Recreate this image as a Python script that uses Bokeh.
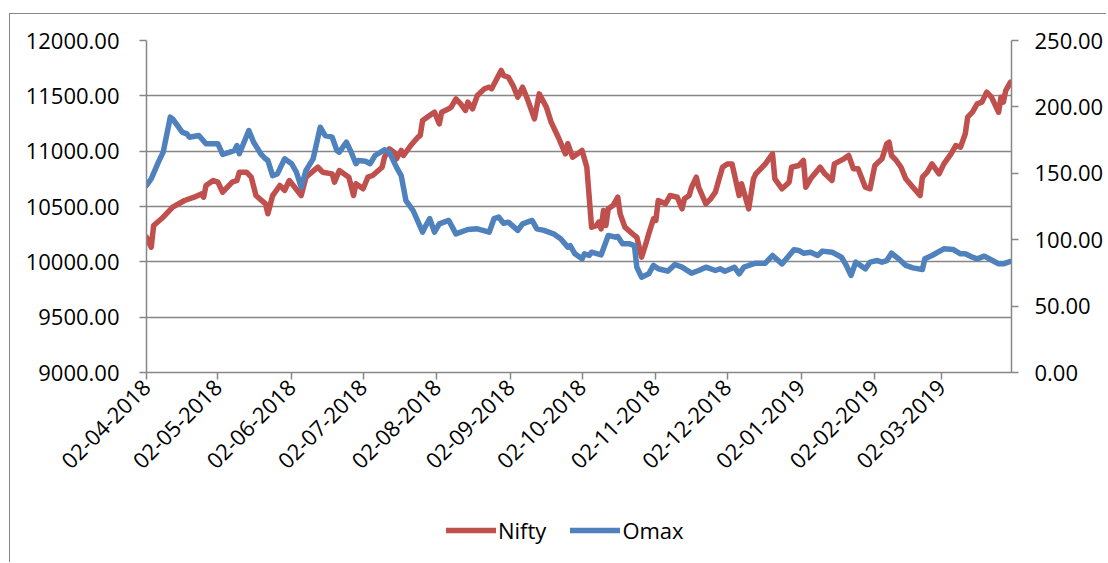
import pandas as pd
from math import pi
from bokeh.plotting import figure
from bokeh.layouts import column
from bokeh.models import (Range1d, LinearAxis, FixedTicker, DatetimeTickFormatter,
                          NumeralTickFormatter, Legend, LegendItem)
from bokeh.embed import file_html
from bokeh.resources import INLINE

# ---------------- data ----------------
nifty_dates = [
    "2018-04-02", "2018-04-04", "2018-04-05", "2018-04-09", "2018-04-13", "2018-04-18", "2018-04-22",
    "2018-04-25", "2018-04-26", "2018-04-27", "2018-04-30", "2018-05-02", "2018-05-04", "2018-05-08",
    "2018-05-10", "2018-05-11", "2018-05-14", "2018-05-16", "2018-05-18", "2018-05-22", "2018-05-23",
    "2018-05-25", "2018-05-28", "2018-05-30", "2018-06-01", "2018-06-06", "2018-06-08", "2018-06-13",
    "2018-06-15", "2018-06-19", "2018-06-20", "2018-06-22", "2018-06-26", "2018-06-28", "2018-06-29",
    "2018-07-02", "2018-07-04", "2018-07-06", "2018-07-10", "2018-07-11", "2018-07-13", "2018-07-15",
    "2018-07-16", "2018-07-18", "2018-07-19", "2018-07-22", "2018-07-25", "2018-07-26", "2018-07-27",
    "2018-07-31", "2018-08-01", "2018-08-03", "2018-08-04", "2018-08-07", "2018-08-08", "2018-08-10",
    "2018-08-12", "2018-08-14", "2018-08-15", "2018-08-17", "2018-08-19", "2018-08-22", "2018-08-24",
    "2018-08-25", "2018-08-29", "2018-08-30", "2018-09-01", "2018-09-03", "2018-09-05", "2018-09-07",
    "2018-09-09", "2018-09-12", "2018-09-14", "2018-09-17", "2018-09-19", "2018-09-22", "2018-09-25",
    "2018-09-26", "2018-09-28", "2018-10-02", "2018-10-04", "2018-10-06", "2018-10-08", "2018-10-09",
    "2018-10-10", "2018-10-11", "2018-10-12", "2018-10-13", "2018-10-15", "2018-10-17", "2018-10-18",
    "2018-10-20", "2018-10-24", "2018-10-25", "2018-10-27", "2018-10-29", "2018-10-30", "2018-11-01",
    "2018-11-02", "2018-11-03", "2018-11-06", "2018-11-08", "2018-11-11", "2018-11-13", "2018-11-14",
    "2018-11-16", "2018-11-17", "2018-11-19", "2018-11-20", "2018-11-23", "2018-11-25", "2018-11-27",
    "2018-11-28", "2018-11-30", "2018-12-02", "2018-12-04", "2018-12-07", "2018-12-08", "2018-12-11",
    "2018-12-13", "2018-12-14", "2018-12-18", "2018-12-21", "2018-12-22", "2018-12-25", "2018-12-28",
    "2018-12-29", "2019-01-01", "2019-01-03", "2019-01-04", "2019-01-06", "2019-01-10", "2019-01-12",
    "2019-01-15", "2019-01-16", "2019-01-20", "2019-01-22", "2019-01-24", "2019-01-26", "2019-01-29",
    "2019-01-31", "2019-02-02", "2019-02-05", "2019-02-07", "2019-02-08", "2019-02-09", "2019-02-11",
    "2019-02-13", "2019-02-15", "2019-02-18", "2019-02-21", "2019-02-22", "2019-02-24", "2019-02-26",
    "2019-02-28", "2019-03-01", "2019-03-03", "2019-03-06", "2019-03-08", "2019-03-10", "2019-03-12",
    "2019-03-13", "2019-03-15", "2019-03-17", "2019-03-19", "2019-03-21", "2019-03-23", "2019-03-26",
    "2019-03-27", "2019-03-28", "2019-03-29", "2019-03-31",
]
nifty_values = [
    10223, 10132, 10328, 10403, 10494, 10554, 10584,
    10614, 10584, 10690, 10735, 10720, 10629, 10720,
    10735, 10810, 10810, 10765, 10599, 10524, 10434,
    10599, 10690, 10645, 10735, 10599, 10765, 10855,
    10810, 10795, 10720, 10825, 10765, 10599, 10705,
    10660, 10765, 10780, 10855, 10946, 11021, 10991,
    10931, 11006, 10961, 11051, 11126, 11142, 11277,
    11338, 11352, 11247, 11352, 11383, 11398, 11473,
    11428, 11368, 11443, 11383, 11503, 11564, 11578,
    11564, 11729, 11684, 11668, 11593, 11488, 11578,
    11473, 11292, 11518, 11398, 11262, 11126, 10976,
    11067, 10946, 11006, 10855, 10313, 10328, 10358,
    10298, 10464, 10328, 10479, 10509, 10584, 10434,
    10313, 10238, 10223, 10042, 10178, 10253, 10389,
    10374, 10554, 10524, 10599, 10584, 10479, 10569,
    10599, 10674, 10765, 10674, 10524, 10569, 10629,
    10705, 10855, 10885, 10885, 10599, 10705, 10479,
    10750, 10795, 10885, 10976, 10750, 10660, 10720,
    10855, 10870, 10916, 10674, 10750, 10855, 10795,
    10735, 10885, 10931, 10961, 10840, 10840, 10674,
    10660, 10870, 10931, 11067, 11081, 10961, 10916,
    10855, 10750, 10674, 10599, 10765, 10810, 10885,
    10825, 10795, 10885, 10976, 11051, 11036, 11157,
    11307, 11352, 11428, 11443, 11533, 11488, 11352,
    11488, 11443, 11548, 11623,
]

omax_dates = [
    "2018-04-02", "2018-04-04", "2018-04-07", "2018-04-09", "2018-04-12", "2018-04-13", "2018-04-17",
    "2018-04-19", "2018-04-20", "2018-04-24", "2018-04-27", "2018-05-02", "2018-05-04", "2018-05-07",
    "2018-05-09", "2018-05-10", "2018-05-11", "2018-05-15", "2018-05-17", "2018-05-20", "2018-05-22",
    "2018-05-23", "2018-05-25", "2018-05-27", "2018-05-30", "2018-06-02", "2018-06-04", "2018-06-06",
    "2018-06-08", "2018-06-11", "2018-06-14", "2018-06-16", "2018-06-19", "2018-06-21", "2018-06-22",
    "2018-06-25", "2018-06-27", "2018-06-29", "2018-06-30", "2018-07-03", "2018-07-05", "2018-07-07",
    "2018-07-11", "2018-07-13", "2018-07-16", "2018-07-18", "2018-07-20", "2018-07-23", "2018-07-27",
    "2018-07-28", "2018-07-30", "2018-08-01", "2018-08-03", "2018-08-07", "2018-08-10", "2018-08-15",
    "2018-08-19", "2018-08-24", "2018-08-26", "2018-08-28", "2018-08-30", "2018-09-01", "2018-09-05",
    "2018-09-07", "2018-09-11", "2018-09-13", "2018-09-16", "2018-09-20", "2018-09-23", "2018-09-26",
    "2018-09-27", "2018-09-29", "2018-10-02", "2018-10-03", "2018-10-05", "2018-10-06", "2018-10-10",
    "2018-10-13", "2018-10-16", "2018-10-17", "2018-10-19", "2018-10-22", "2018-10-24", "2018-10-25",
    "2018-10-27", "2018-10-30", "2018-11-01", "2018-11-03", "2018-11-07", "2018-11-10", "2018-11-13",
    "2018-11-17", "2018-11-20", "2018-11-23", "2018-11-27", "2018-11-29", "2018-12-01", "2018-12-05",
    "2018-12-07", "2018-12-09", "2018-12-11", "2018-12-14", "2018-12-18", "2018-12-21", "2018-12-25",
    "2018-12-28", "2018-12-30", "2019-01-01", "2019-01-03", "2019-01-06", "2019-01-09", "2019-01-11",
    "2019-01-15", "2019-01-19", "2019-01-21", "2019-01-23", "2019-01-25", "2019-01-29", "2019-01-31",
    "2019-02-03", "2019-02-05", "2019-02-07", "2019-02-09", "2019-02-12", "2019-02-15", "2019-02-18",
    "2019-02-22", "2019-02-23", "2019-02-26", "2019-03-03", "2019-03-07", "2019-03-10", "2019-03-12",
    "2019-03-15", "2019-03-17", "2019-03-20", "2019-03-24", "2019-03-26", "2019-03-28", "2019-03-31",
]
omax_values = [
    140.8, 145.9, 158.4, 165.9, 192.3, 191.0, 181.0,
    179.7, 177.2, 178.5, 172.2, 172.2, 164.2, 165.9,
    167.2, 170.9, 164.7, 182.2, 173.4, 164.7, 160.9,
    159.6, 148.3, 149.6, 160.9, 157.2, 150.8, 139.5,
    152.1, 160.9, 184.7, 178.5, 177.2, 167.2, 165.9,
    173.4, 165.9, 157.2, 159.6, 159.1, 157.2, 163.4,
    167.7, 165.9, 154.6, 148.3, 129.5, 122.0, 105.7,
    109.5, 115.8, 105.7, 111.9, 114.5, 104.4, 107.7,
    108.2, 105.7, 115.8, 117.0, 112.4, 113.2, 107.0,
    111.9, 114.5, 108.2, 107.0, 104.4, 100.7, 94.4,
    95.6, 89.4, 85.6, 89.4, 88.1, 90.6, 88.6,
    103.2, 101.9, 102.4, 96.9, 96.9, 95.6, 79.3,
    71.8, 74.3, 80.6, 78.1, 76.3, 81.3, 79.3,
    74.8, 76.8, 79.3, 76.8, 78.1, 76.3, 79.3,
    74.3, 79.3, 80.6, 82.3, 82.3, 88.1, 81.8,
    88.1, 92.4, 91.9, 89.8, 90.6, 88.1, 91.4,
    90.6, 86.8, 80.6, 73.1, 83.1, 78.1, 83.1,
    84.3, 83.1, 84.3, 89.8, 85.6, 80.6, 78.8,
    77.6, 85.6, 88.1, 93.1, 92.6, 89.4, 89.4,
    86.8, 85.6, 87.6, 83.8, 81.8, 81.8, 83.6,
]

x_tick_dates = ["2018-04-02", "2018-05-02", "2018-06-02", "2018-07-02", "2018-08-02", "2018-09-02",
                "2018-10-02", "2018-11-02", "2018-12-02", "2019-01-02", "2019-02-02", "2019-03-02"]
x_start, x_end = "2018-04-02", "2019-03-31 10:00"
nifty_ticks = [9000, 9500, 10000, 10500, 11000, 11500, 12000]
omax_ticks = [0, 50, 100, 150, 200, 250]
series_names = ["Nifty", "Omax"]
series_colors = ["#C0504D", "#4F81BD"]

# ---------------- main figure ----------------
FONT = "Open Sans"
AXIS_GRAY = "#868686"
W = 1096

p = figure(width=W, height=480, x_axis_type="datetime",
           output_backend="svg", toolbar_location=None,
           x_range=Range1d(pd.Timestamp(x_start), pd.Timestamp(x_end)),
           y_range=Range1d(nifty_ticks[0], nifty_ticks[-1]),
           min_border_left=136, min_border_right=94,
           min_border_top=26, min_border_bottom=122)
p.outline_line_color = None
p.background_fill_color = "white"
p.border_fill_color = "white"

p.extra_y_ranges = {"omax": Range1d(omax_ticks[0], omax_ticks[-1])}

line_style = dict(line_width=5.5, line_join="round", line_cap="round")
r_nifty = p.line(pd.to_datetime(nifty_dates), nifty_values, line_color=series_colors[0], **line_style)
r_omax = p.line(pd.to_datetime(omax_dates), omax_values, line_color=series_colors[1],
                y_range_name="omax", **line_style)

right_axis = LinearAxis(y_range_name="omax")
p.add_layout(right_axis, "right")

p.yaxis[0].ticker = FixedTicker(ticks=nifty_ticks)
p.yaxis[0].formatter = NumeralTickFormatter(format="0.00")
right_axis.ticker = FixedTicker(ticks=omax_ticks)
right_axis.formatter = NumeralTickFormatter(format="0.00")

tick_ms = [pd.Timestamp(d).timestamp() * 1000 for d in x_tick_dates]
p.xaxis[0].ticker = FixedTicker(ticks=tick_ms)
fmt = "%d-%m-%Y"
p.xaxis[0].formatter = DatetimeTickFormatter(
    microseconds=fmt, milliseconds=fmt, seconds=fmt, minsec=fmt, minutes=fmt,
    hourmin=fmt, hours=fmt, days=fmt, months=fmt, years=fmt)
p.xaxis[0].major_label_orientation = pi / 4

for ax in [p.yaxis[0], right_axis, p.xaxis[0]]:
    ax.axis_line_color = AXIS_GRAY
    ax.axis_line_width = 1.5
    ax.major_tick_line_color = AXIS_GRAY
    ax.major_tick_line_width = 1.5
    ax.major_tick_out = 7
    ax.major_tick_in = 0
    ax.minor_tick_line_color = None
    ax.major_label_text_font = FONT
    ax.major_label_text_font_size = "22px"
    ax.major_label_text_color = "black"

p.yaxis[0].major_label_standoff = 20
right_axis.major_label_standoff = 16
p.xaxis[0].major_label_standoff = 4

p.xgrid.visible = False
p.ygrid.grid_line_color = AXIS_GRAY
p.ygrid.grid_line_width = 1.3

# ---------------- legend strip below ----------------
lg = figure(width=W, height=68, x_range=Range1d(0, 1), y_range=Range1d(0, 1),
            x_axis_location=None, y_axis_location=None, min_border=0,
            output_backend="svg", toolbar_location=None)
lg.outline_line_color = None
lg.xgrid.visible = False
lg.ygrid.visible = False
# key-only renderers (a single NaN value: nothing is drawn in the strip itself)
k_nifty = lg.line(x=[0], y=[float("nan")], line_color=series_colors[0], **line_style)
k_omax = lg.line(x=[0], y=[float("nan")], line_color=series_colors[1], **line_style)

legend = Legend(items=[LegendItem(label=series_names[0], renderers=[k_nifty]),
                       LegendItem(label=series_names[1], renderers=[k_omax])],
                orientation="horizontal", location=(300, 17),
                glyph_width=50, glyph_height=20, label_standoff=2, spacing=24,
                padding=0, margin=0, border_line_color=None, background_fill_alpha=0,
                label_text_font=FONT, label_text_font_size="22px", label_text_color="black")
lg.add_layout(legend)

layout = column(p, lg, spacing=0,
                styles={"margin-left": "9px", "margin-top": "13px",
                        "border-left": "1px solid #868686", "border-top": "1px solid #868686"})

open("out.html", "w").write(file_html(layout, INLINE))
